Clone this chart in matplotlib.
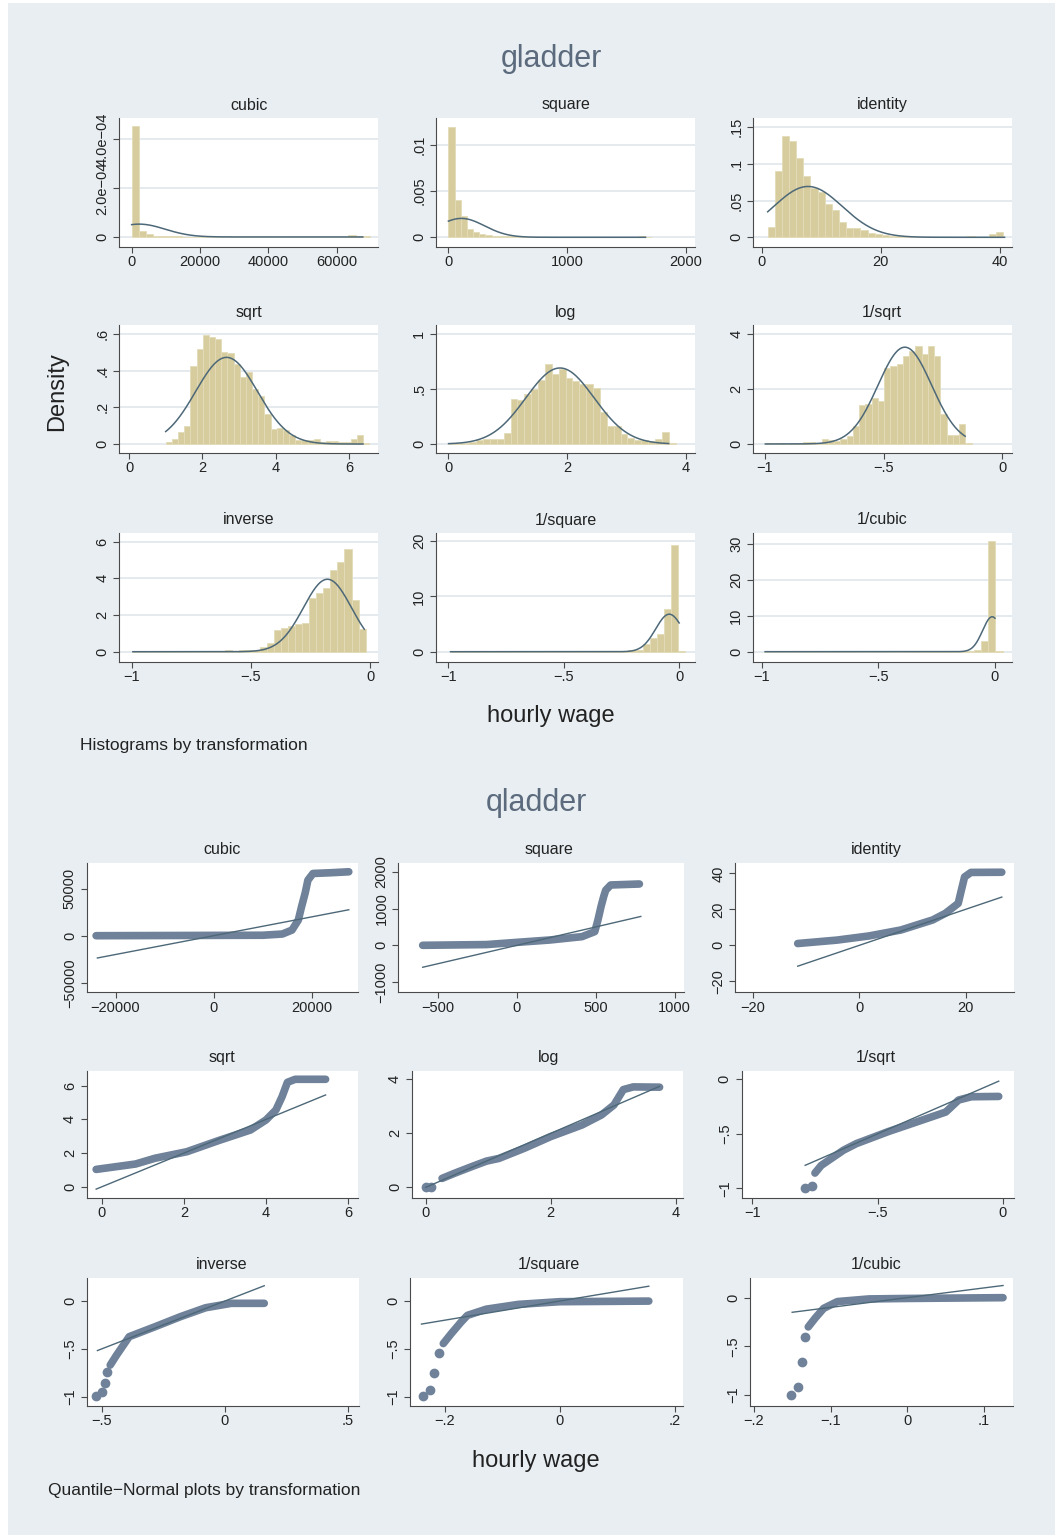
import matplotlib
matplotlib.use('Agg')
import matplotlib.pyplot as plt
from matplotlib.patches import Rectangle
import numpy as np

plt.rcParams['font.family'] = ['Liberation Sans', 'DejaVu Sans']

W, H = 1059, 1538
BG = '#e8eef2'
BAR = '#d6cc9e'
BAR_EDGE = '#e4dcb8'
CURVE = '#4d6878'
POINT = '#6f8299'
TITLE_C = '#5b6a7c'
GRID = '#dde4ea'
AX = '#4a4a4a'

###  DATA  ###

names = ['cubic', 'square', 'identity', 'sqrt', 'log', '1/sqrt',
         'inverse', '1/square', '1/cubic']

# histograms (gladder): first bin edge, bin width, densities
hist_start = [1, 1, 1.0, 1.0, 0.0056, -0.998, -0.995, -0.99, -0.99]
hist_width = [2115, 51.8, 1.197, 0.1683, 0.1158, 0.0263, 0.02958, 0.0308, 0.031]

cubic_h = np.array([4.52, 0.26, 0.12, 0.04, 0.03, 0.02, 0.02, 0.015, 0.01, 0.01,
                    0.01, 0.01, 0.005, 0.005, 0.005, 0.005, 0.005, 0.005, 0.005,
                    0.005, 0.003, 0.003, 0.003, 0.003, 0.003, 0.003, 0.003, 0.003,
                    0.003, 0.003, 0.07, 0.03, 0.04]) * 1e-4
square_h = [0.01194, 0.00399, 0.0023, 0.00086, 0.00054, 0.00032, 0.00025, 0.00015,
            0.00012, 0.0001, 0.0001, 0.00008, 0.00006, 0.00005, 0.00004, 0.00004,
            0.00003, 0.00003, 0.00003, 0.00002, 0.00002, 0.00002, 0.00002, 0.00002,
            0.00002, 0.00002, 0.00002, 0.00002, 0.00005, 0.00002, 0.00002, 0.00015,
            0.00008]
identity_h = [0.0135, 0.090, 0.1375, 0.131, 0.108, 0.083, 0.067, 0.062, 0.045,
              0.037, 0.021, 0.012, 0.012, 0.010, 0.006, 0.004, 0.003, 0.002, 0.002,
              0.002, 0.001, 0.001, 0.001, 0.001, 0.001, 0.001, 0.0005, 0.001, 0.002,
              0.0005, 0.0005, 0.005, 0.007]
sqrt_h = [0.013, 0.025, 0.064, 0.096, 0.427, 0.518, 0.598, 0.582, 0.576, 0.505,
          0.495, 0.436, 0.364, 0.395, 0.300, 0.264, 0.164, 0.084, 0.087, 0.075,
          0.051, 0.022, 0.024, 0.022, 0.025, 0.013, 0.015, 0.016, 0.011, 0.013,
          0.029, 0.049, 0.007]
log_h = [0.006, 0.009, 0.012, 0.018, 0.036, 0.042, 0.045, 0.048, 0.097, 0.409,
         0.40, 0.46, 0.503, 0.588, 0.727, 0.636, 0.688, 0.606, 0.576, 0.545,
         0.545, 0.515, 0.294, 0.164, 0.164, 0.091, 0.058, 0.033, 0.036, 0.027,
         0.042, 0.112, 0.009]
invsqrt_h = [0.05, 0.01, 0.02, 0.01, 0.02, 0.05, 0.06, 0.06, 0.05, 0.17, 0.16,
             0.11, 0.17, 0.29, 0.66, 1.43, 1.45, 1.67, 1.57, 2.77, 2.83, 2.93,
             3.22, 3.40, 3.56, 3.29, 3.59, 3.22, 1.10, 0.34, 0.33, 0.73, 0.02]
inverse_h = [0.05, 0.03, 0.01, 0.03, 0.04, 0.03, 0.02, 0.03, 0.05, 0.04, 0.03,
             0.05, 0.04, 0.07, 0.06, 0.07, 0.08, 0.12, 0.25, 0.45, 1.18, 1.27,
             1.42, 1.51, 1.55, 2.91, 3.18, 3.45, 4.45, 4.90, 5.58, 2.82, 1.22]
invsquare_h = [0.05, 0.04, 0.04, 0.04, 0.04, 0.04, 0.04, 0.04, 0.05, 0.04, 0.04,
               0.05, 0.05, 0.05, 0.05, 0.05, 0.06, 0.06, 0.06, 0.07, 0.08, 0.1,
               0.1, 0.15, 0.2, 0.25, 0.3, 1.4, 2.4, 3.2, 7.7, 19.3, 0.2]
invcubic_h = [0.05, 0.04, 0.04, 0.04, 0.04, 0.04, 0.04, 0.04, 0.04, 0.04, 0.04,
              0.04, 0.04, 0.04, 0.05, 0.05, 0.05, 0.05, 0.05, 0.05, 0.06, 0.06,
              0.07, 0.08, 0.1, 0.12, 0.15, 0.2, 0.3, 0.5, 3.0, 30.7, 0.2]
hist_heights = [cubic_h, square_h, identity_h, sqrt_h, log_h, invsqrt_h,
                inverse_h, invsquare_h, invcubic_h]

# normal density overlay: mean, sd, data range
norm_mean = [2200, 110, 7.77, 2.66, 1.88, -0.411, -0.179, -0.0435, -0.012]
norm_sd = [7600, 195, 5.76, 0.843, 0.575, 0.113, 0.101, 0.0588, 0.041]
data_min = [1, 1, 1.005, 1.0, 0.005, -0.998, -0.995, -0.99, -0.985]
data_max = [67650, 1660, 40.75, 6.38, 3.71, -0.157, -0.0245, -0.0006, -0.00001]

hist_xlim = [(-3700, 72100), (-103.5, 2076), (-1.46, 42.0), (-0.273, 6.79),
             (-0.207, 4.153), (-1.05, 0.04), (-1.053, 0.033), (-1.053, 0.068),
             (-1.037, 0.073)]
hist_ylim = [(-0.41e-4, 4.86e-4), (-0.00105, 0.01291), (-0.0132, 0.1625),
             (-0.049, 0.650), (-0.082, 1.086), (-0.33, 4.34), (-0.56, 6.47),
             (-1.86, 21.46), (-2.87, 33.06)]
hist_xticks = [[0, 20000, 40000, 60000], [0, 1000, 2000], [0, 20, 40], [0, 2, 4, 6],
               [0, 2, 4], [-1, -0.5, 0], [-1, -0.5, 0], [-1, -0.5, 0], [-1, -0.5, 0]]
hist_xlabels = [['0', '20000', '40000', '60000'], ['0', '1000', '2000'],
                ['0', '20', '40'], ['0', '2', '4', '6'], ['0', '2', '4'],
                ['\u22121', '\u2212.5', '0'], ['\u22121', '\u2212.5', '0'],
                ['\u22121', '\u2212.5', '0'], ['\u22121', '\u2212.5', '0']]
hist_yticks = [[0, 2e-4, 4e-4], [0, 0.005, 0.01], [0, 0.05, 0.1, 0.15],
               [0, 0.2, 0.4, 0.6], [0, 0.5, 1], [0, 2, 4], [0, 2, 4, 6],
               [0, 10, 20], [0, 10, 20, 30]]
hist_ylabels = [['0', '2.0e\u221204', '4.0e\u221204'], ['0', '.005', '.01'],
                ['0', '.05', '.1', '.15'], ['0', '.2', '.4', '.6'], ['0', '.5', '1'],
                ['0', '2', '4'], ['0', '2', '4', '6'], ['0', '10', '20'],
                ['0', '10', '20', '30']]

# quantile-normal plots (qladder): separate tail dots and the dense band
qq_tail_x = [[], [], [], [], [0.0, 0.08], [-0.79, -0.763],
             [-0.524, -0.5, -0.487, -0.479], [-0.239, -0.226, -0.219, -0.211],
             [-0.152, -0.143, -0.137, -0.133]]
qq_tail_y = [[], [], [], [], [0.0, 0.02], [-1.0, -0.98],
             [-0.99, -0.955, -0.86, -0.74], [-0.99, -0.93, -0.75, -0.54],
             [-1.0, -0.92, -0.66, -0.40]]
qq_x = [[-23960, 10100, 14040, 16000, 17300, 17960, 18730, 19260, 20300, 24000, 27600],
        [-598, -194, 210, 413, 494, 514, 534, 551, 563, 595, 777],
        [-11.6, -4.2, 1.8, 7.8, 13.8, 16.2, 18.6, 19.2, 19.8, 21.0, 26.8],
        [-0.14, 0.82, 1.29, 2.07, 2.84, 3.62, 4.0, 4.24, 4.39, 4.52, 4.71, 5.45],
        [0.26, 0.46, 0.75, 0.97, 1.17, 1.58, 2.0, 2.5, 2.81, 3.01, 3.16, 3.32, 3.74],
        [-0.75, -0.725, -0.687, -0.636, -0.585, -0.458, -0.33, -0.228, -0.177,
         -0.126, -0.017],
        [-0.466, -0.44, -0.389, -0.285, -0.181, -0.078, 0.026, 0.16],
        [-0.203, -0.189, -0.172, -0.161, -0.128, -0.072, 0.0, 0.155],
        [-0.129, -0.120, -0.109, -0.091, -0.05, 0.0, 0.125]]
qq_y = [[0, 500, 1800, 5960, 16600, 30800, 46000, 59100, 66200, 67000, 68000],
        [0, 20, 145, 236, 373, 690, 1063, 1335, 1499, 1643, 1670],
        [1.0, 2.9, 5.2, 8.5, 14.1, 17.8, 23.3, 30.7, 38.0, 40.5, 40.6],
        [1.03, 1.35, 1.69, 2.08, 2.74, 3.37, 3.97, 4.56, 5.35, 6.2, 6.38, 6.38],
        [0.33, 0.52, 0.78, 0.97, 1.07, 1.45, 1.88, 2.31, 2.68, 3.05, 3.62, 3.72, 3.71],
        [-0.86, -0.79, -0.73, -0.65, -0.59, -0.48, -0.38, -0.30, -0.19, -0.16, -0.157],
        [-0.67, -0.565, -0.373, -0.27, -0.164, -0.07, -0.024, -0.024],
        [-0.445, -0.34, -0.22, -0.15, -0.085, -0.035, -0.007, -0.0006],
        [-0.30, -0.21, -0.11, -0.04, -0.013, -0.008, 0.0]]
# reference line y = x between these ends
qq_line_lo = [-23700, -598, -11.6, -0.14, 0.0, -0.789, -0.518, -0.241, -0.15]
qq_line_hi = [27600, 786, 26.8, 5.45, 3.74, -0.017, 0.16, 0.155, 0.125]

qq_xlim = [(-25900, 29400), (-752, 1060), (-23.4, 29.1), (-0.373, 6.23),
           (-0.224, 4.115), (-1.043, 0.044), (-0.562, 0.545), (-0.261, 0.2146),
           (-0.205, 0.138)]
qq_ylim = [(-60200, 77660), (-1280, 2250), (-26.1, 45.9), (-0.65, 6.89),
           (-0.385, 4.32), (-1.086, 0.079), (-1.098, 0.244), (-1.098, 0.244),
           (-1.112, 0.205)]
qq_xticks = [[-20000, 0, 20000], [-500, 0, 500, 1000], [-20, 0, 20], [0, 2, 4, 6],
             [0, 2, 4], [-1, -0.5, 0], [-0.5, 0, 0.5], [-0.2, 0, 0.2],
             [-0.2, -0.1, 0, 0.1]]
qq_xlabels = [['\u221220000', '0', '20000'], ['\u2212500', '0', '500', '1000'],
              ['\u221220', '0', '20'], ['0', '2', '4', '6'], ['0', '2', '4'],
              ['\u22121', '\u2212.5', '0'], ['\u2212.5', '0', '.5'],
              ['\u2212.2', '0', '.2'], ['\u2212.2', '\u2212.1', '0', '.1']]
qq_yticks = [[-50000, 0, 50000], [-1000, 0, 1000, 2000], [-20, 0, 20, 40],
             [0, 2, 4, 6], [0, 2, 4], [-1, -0.5, 0], [-1, -0.5, 0], [-1, -0.5, 0],
             [-1, -0.5, 0]]
qq_ylabels = [['\u221250000', '0', '50000'], ['\u22121000', '0', '1000', '2000'],
              ['\u221220', '0', '20', '40'], ['0', '2', '4', '6'], ['0', '2', '4'],
              ['\u22121', '\u2212.5', '0'], ['\u22121', '\u2212.5', '0'],
              ['\u22121', '\u2212.5', '0'], ['\u22121', '\u2212.5', '0']]

###  LAYOUT (pixels)  ###

hist_tops = [118, 325, 533]
hist_bots = [247, 453, 662]
hist_lefts = [119, 436, 753]
hist_rights = [378, 695, 1012]
hist_title_x = [249, 566, 882]

qq_tops = [862.7, 1070.7, 1277.7]
qq_bots = [992.3, 1197.7, 1406]
qq_lefts = [[86.6, 398.4, 735], [86.6, 411.8, 741.5], [86.6, 410, 750]]
qq_rights = [[357.6, 684, 1014], [357.6, 683, 1014], [359, 683, 1013]]
qq_title_x = [222, 549, 876]

fig = plt.figure(figsize=(W / 100, H / 100), dpi=100, facecolor='white')
fig.patches.append(Rectangle((8 / W, 3 / H), 1047 / W, 1532 / H,
                             transform=fig.transFigure, facecolor=BG,
                             edgecolor='none', zorder=-10))


def px_axes(l, t, r, b):
    return fig.add_axes([l / W, 1 - b / H, (r - l) / W, (b - t) / H])


def style(ax, xt, xl, yt, yl, grid):
    ax.set_facecolor('white')
    for s in ['top', 'right']:
        ax.spines[s].set_visible(False)
    for s in ['left', 'bottom']:
        ax.spines[s].set_color(AX)
        ax.spines[s].set_linewidth(0.8)
    ax.set_xticks(xt)
    ax.set_xticklabels(xl)
    ax.set_yticks(yt)
    ax.set_yticklabels(yl, rotation=90, va='center')
    ax.tick_params(axis='both', direction='out', length=4, width=0.8, color=AX,
                   labelsize=10.5, labelcolor='#222222')
    ax.tick_params(axis='y', pad=3)
    ax.tick_params(axis='x', pad=2)
    if grid:
        ax.yaxis.grid(True, color=GRID, lw=1.1)
        ax.set_axisbelow(True)


for i in range(9):
    r, c = divmod(i, 3)
    ax = px_axes(hist_lefts[c], hist_tops[r], hist_rights[c], hist_bots[r])
    h = np.asarray(hist_heights[i])
    edges = hist_start[i] + hist_width[i] * np.arange(len(h))
    ax.bar(edges, h, width=hist_width[i], align='edge', color=BAR,
           edgecolor=BAR_EDGE, linewidth=0.6, zorder=2)
    xs = np.linspace(data_min[i], data_max[i], 300)
    ys = np.exp(-0.5 * ((xs - norm_mean[i]) / norm_sd[i]) ** 2) / (norm_sd[i] * np.sqrt(2 * np.pi))
    ax.plot(xs, ys, color=CURVE, lw=1.1, zorder=3)
    ax.set_xlim(hist_xlim[i])
    ax.set_ylim(hist_ylim[i])
    style(ax, hist_xticks[i], hist_xlabels[i], hist_yticks[i], hist_ylabels[i], True)
    fig.text(hist_title_x[c] / W, 1 - (hist_tops[r] - 13) / H, names[i],
             ha='center', va='center', fontsize=11.5, color='#222222')

for i in range(9):
    r, c = divmod(i, 3)
    ax = px_axes(qq_lefts[r][c], qq_tops[r], qq_rights[r][c], qq_bots[r])
    ax.plot(qq_x[i], qq_y[i], '-', color=POINT, lw=5.5,
            solid_capstyle='round', solid_joinstyle='round', zorder=2)
    if qq_tail_x[i]:
        ax.plot(qq_tail_x[i], qq_tail_y[i], 'o', color=POINT, ms=6, zorder=2)
    ax.plot([qq_line_lo[i], qq_line_hi[i]], [qq_line_lo[i], qq_line_hi[i]],
            color=CURVE, lw=1.0, zorder=3)
    ax.set_xlim(qq_xlim[i])
    ax.set_ylim(qq_ylim[i])
    style(ax, qq_xticks[i], qq_xlabels[i], qq_yticks[i], qq_ylabels[i], False)
    fig.text(qq_title_x[c] / W, 1 - (qq_tops[r] - 13) / H, names[i],
             ha='center', va='center', fontsize=11.5, color='#222222')

# overall titles and labels
fig.text(551 / W, 1 - 59 / H, 'gladder', ha='center', va='center',
         fontsize=22, color=TITLE_C)
fig.text(57 / W, 1 - 392 / H, 'Density', ha='center', va='center',
         rotation=90, fontsize=17, color='#222222')
fig.text(551 / W, 1 - 716 / H, 'hourly wage', ha='center', va='center',
         fontsize=17, color='#222222')
fig.text(80 / W, 1 - 745 / H, 'Histograms by transformation', ha='left',
         va='center', fontsize=12.5, color='#222222')

fig.text(536 / W, 1 - 803 / H, 'qladder', ha='center', va='center',
         fontsize=22, color=TITLE_C)
fig.text(536 / W, 1 - 1461 / H, 'hourly wage', ha='center', va='center',
         fontsize=17, color='#222222')
fig.text(48 / W, 1 - 1490 / H, 'Quantile\u2212Normal plots by transformation',
         ha='left', va='center', fontsize=12.5, color='#222222')

fig.savefig('out.png', dpi=100, facecolor=fig.get_facecolor())
